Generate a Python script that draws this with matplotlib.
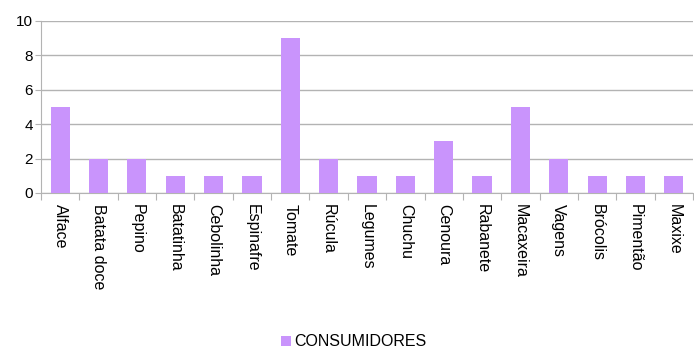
import matplotlib.pyplot as plt
import numpy as np

plt.rcParams['font.family'] = ['Liberation Sans', 'DejaVu Sans']

# Dados
categorias = ['Alface', 'Batata doce', 'Pepino', 'Batatinha', 'Cebolinha', 'Espinafre',
              'Tomate', 'Rúcula', 'Legumes', 'Chuchu', 'Cenoura', 'Rabanete',
              'Macaxeira', 'Vagens', 'Brócolis', 'Pimentão', 'Maxixe']
consumidores = [5, 2, 2, 1, 1, 1, 9, 2, 1, 1, 3, 1, 5, 2, 1, 1, 1]
yticks = [0, 2, 4, 6, 8, 10]

cor = '#c994fc'
cinza = '#b3b3b3'

fig = plt.figure(figsize=(6.94, 3.51), dpi=100)
ax = fig.add_axes([41 / 694, 1 - 193 / 351, 652 / 694, (193 - 21) / 351])

x = np.arange(len(categorias))
ax.bar(x, consumidores, width=0.5, color=cor, label='CONSUMIDORES', zorder=3)

ax.set_xlim(-0.5, len(categorias) - 0.5)
ax.set_ylim(0, 10)
ax.set_yticks(yticks)
ax.tick_params(axis='y', length=4, color=cinza, labelsize=11, pad=2)

# ticks nas fronteiras das categorias, rótulos no centro
ax.set_xticks(np.arange(len(categorias) + 1) - 0.5)
ax.set_xticklabels([])
ax.tick_params(axis='x', which='major', length=5, color=cinza)
ax.set_xticks(x, minor=True)
ax.set_xticklabels(categorias, minor=True, rotation=270, fontsize=11.5, va='top', ha='center')
ax.tick_params(axis='x', which='minor', length=0, pad=8)

ax.grid(True, axis='y', color=cinza, linewidth=1, zorder=0)
for s in ['top', 'right']:
    ax.spines[s].set_visible(False)
ax.spines['left'].set_color(cinza)
ax.spines['bottom'].set_color(cinza)

fig.legend(loc='center', bbox_to_anchor=(354 / 694, 1 - 342 / 351), frameon=False,
           fontsize=11.5, handlelength=0.6, handleheight=0.6, handletextpad=0.2)

plt.savefig('out.png', dpi=100)
plt.close(fig)
